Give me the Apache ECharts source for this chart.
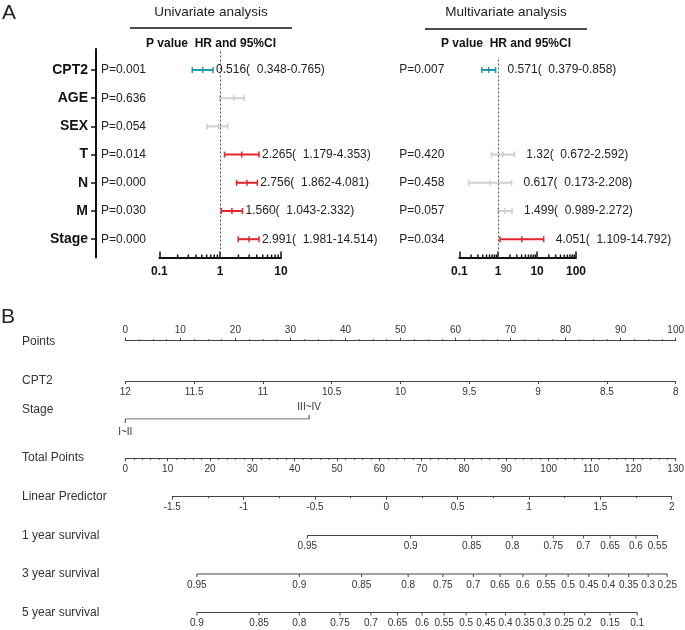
<!DOCTYPE html>
<html><head><meta charset="utf-8">
<script src="https://cdn.jsdelivr.net/npm/echarts@6/dist/echarts.min.js"></script>
<style>html,body{margin:0;padding:0;background:#fff}#c{width:685px;height:630px}</style>
</head><body><div id="c"></div>
<script>
// ---------- Panel A data ----------
const variables = ['CPT2', 'AGE', 'SEX', 'T', 'N', 'M', 'Stage'];
const uniP = ['P=0.001', 'P=0.636', 'P=0.054', 'P=0.014', 'P=0.000', 'P=0.030', 'P=0.000'];
const uniHR = [0.516, 1.67, 0.95, 2.265, 2.756, 1.560, 2.991];
const uniLo = [0.348, 0.975, 0.61, 1.179, 1.862, 1.043, 1.981];
const uniHi = [0.765, 2.5, 1.33, 4.353, 4.081, 2.332, 4.35];
const uniText = ['0.516(  0.348-0.765)', '', '', '2.265(  1.179-4.353)', '2.756(  1.862-4.081)', '1.560(  1.043-2.332)', '2.991(  1.981-14.514)'];
const uniSig = ['low', 'ns', 'ns', 'high', 'high', 'high', 'high'];

const multiP = ['P=0.007', '', '', 'P=0.420', 'P=0.458', 'P=0.057', 'P=0.034'];
const multiHR = [0.571, null, null, 1.32, 0.617, 1.499, 4.051];
const multiLo = [0.379, null, null, 0.672, 0.173, 0.989, 1.109];
const multiHi = [0.858, null, null, 2.592, 2.208, 2.272, 14.792];
const multiText = ['0.571(  0.379-0.858)', '', '', '1.32(  0.672-2.592)', '0.617(  0.173-2.208)', '1.499(  0.989-2.272)', '4.051(  1.109-14.792)'];
const multiSig = ['low', null, null, 'ns', 'ns', 'ns', 'high'];

const uniMinorTicks = [0.2, 0.3, 0.4, 0.5, 0.6, 0.7, 0.8, 0.9, 2, 3, 4, 5, 6, 7, 8, 9];
const multiMinorTicks = [0.2, 0.3, 0.4, 0.5, 0.6, 0.7, 0.8, 0.9, 2, 3, 4, 5, 6, 7, 8, 9, 20, 30, 40, 50, 60, 70, 80, 90];

// ---------- Panel B (nomogram) data ----------
const rowNames = ['Points', 'CPT2', 'Stage', 'Total Points', 'Linear Predictor', '1 year survival', '3 year survival', '5 year survival'];
const stageLevels = ['I~II', 'III~IV'];
const stagePoints = [0, 33.4];
const surv1Labels = ['0.95', '0.9', '0.85', '0.8', '0.75', '0.7', '0.65', '0.6', '0.55'];
const surv1Pos = [43.0, 67.4, 81.8, 91.4, 101.1, 108.2, 114.5, 120.6, 125.7];
const surv3Labels = ['0.95', '0.9', '0.85', '0.8', '0.75', '0.7', '0.65', '0.6', '0.55', '0.5', '0.45', '0.4', '0.35', '0.3', '0.25'];
const surv3Pos = [16.9, 41.1, 55.8, 66.8, 75.0, 82.2, 88.5, 93.9, 99.4, 104.6, 109.5, 114.1, 118.9, 123.5, 128.0];
const surv5Labels = ['0.9', '0.85', '0.8', '0.75', '0.7', '0.65', '0.6', '0.55', '0.5', '0.45', '0.4', '0.35', '0.3', '0.25', '0.2', '0.15', '0.1'];
const surv5Pos = [16.9, 31.6, 41.1, 50.7, 58.0, 64.3, 70.1, 75.3, 80.5, 85.2, 89.8, 94.4, 98.9, 103.7, 108.5, 114.5, 120.9];

// ---------- styling ----------
const FONT = "'Liberation Sans', Arial, 'Noto Sans CJK SC', sans-serif";
const SIG_COLORS = { low: '#1f9bb0', ns: '#cfcfcf', high: '#e3262d' };
const NOMO_LINE = '#444';
const NOMO_TEXT = '#333';

function forestItem(textArr, sigArr, gap) {
  return function (params, api) {
    const lo = api.value(0), hi = api.value(1), hr = api.value(2), row = api.value(3);
    const a = api.coord([lo, row]), b = api.coord([hi, row]), c = api.coord([hr, row]);
    const col = SIG_COLORS[sigArr[row]];
    const h = 3;
    const children = [
      { type: 'line', shape: { x1: a[0], y1: a[1], x2: b[0], y2: b[1] }, style: { stroke: col, lineWidth: 2 } },
      { type: 'line', shape: { x1: a[0], y1: a[1] - h, x2: a[0], y2: a[1] + h }, style: { stroke: col, lineWidth: 1.5 } },
      { type: 'line', shape: { x1: b[0], y1: b[1] - h, x2: b[0], y2: b[1] + h }, style: { stroke: col, lineWidth: 1.5 } },
      { type: 'line', shape: { x1: c[0], y1: c[1] - h, x2: c[0], y2: c[1] + h }, style: { stroke: col, lineWidth: 1.5 } }
    ];
    if (textArr[row]) {
      children.push({ type: 'text', style: { x: b[0] + gap, y: b[1], text: textArr[row], fill: '#222', fontSize: 12, fontFamily: FONT, textAlign: 'left', textVerticalAlign: 'middle' } });
    }
    return { type: 'group', children };
  };
}
function minorTickItem(params, api) {
  const p = api.coord([api.value(0), 0]);
  return { type: 'line', shape: { x1: p[0], y1: p[1], x2: p[0], y2: p[1] - 3 }, style: { stroke: '#111', lineWidth: 1.5 } };
}
function survItem(labels) {
  return function (params, api) {
    const p = api.coord([api.value(0), 0]);
    return { type: 'group', children: [
      { type: 'line', shape: { x1: p[0], y1: p[1], x2: p[0], y2: p[1] + 3 }, style: { stroke: NOMO_LINE, lineWidth: 1 } },
      { type: 'text', style: { x: p[0], y: p[1] + 6, text: labels[params.dataIndex], fill: NOMO_TEXT, fontSize: 10, fontFamily: FONT, textAlign: 'center', textVerticalAlign: 'top' } }
    ] };
  };
}
function stageItem(params, api) {
  const p = api.coord([api.value(0), 0]);
  const up = params.dataIndex % 2 === 1;
  return { type: 'group', children: [
    { type: 'line', shape: { x1: p[0], y1: p[1], x2: p[0], y2: p[1] + (up ? -4 : 4) }, style: { stroke: NOMO_LINE, lineWidth: 1 } },
    { type: 'text', style: { x: p[0], y: p[1] + (up ? -7 : 8), text: stageLevels[params.dataIndex], fill: NOMO_TEXT, fontSize: 10, fontFamily: FONT, textAlign: 'center', textVerticalAlign: up ? 'bottom' : 'top' } }
  ] };
}

function forestData(lo, hi, hr) {
  const d = [];
  for (let i = 0; i < hr.length; i++) if (hr[i] != null) d.push([lo[i], hi[i], hr[i], i]);
  return d;
}

function g(left, right, top, height) { return { left, right, top, height, outerBoundsMode: 'none', containLabel: false }; }

const logAxisVisible = (gridIndex, max) => ({
  type: 'log', logBase: 10, gridIndex, min: 0.1, max, position: 'bottom',
  axisLine: { show: true, lineStyle: { color: '#111', width: 2 } },
  axisTick: { show: true, inside: true, length: 6, lineStyle: { color: '#111', width: 1.5 } },
  minorTick: { show: false }, splitLine: { show: false }, minorSplitLine: { show: false },
  axisLabel: { fontSize: 12, fontWeight: 'bold', color: '#111', fontFamily: FONT, margin: 8 }
});
const logAxisHidden = (gridIndex, max) => ({ type: 'log', logBase: 10, gridIndex, min: 0.1, max, show: false });

function nomoX(gridIndex, cfg) {
  return Object.assign({
    type: 'value', gridIndex, position: 'bottom',
    axisLine: { show: true, lineStyle: { color: NOMO_LINE, width: 1 } },
    axisTick: { show: true, length: 3, lineStyle: { color: NOMO_LINE } },
    splitLine: { show: false }, minorSplitLine: { show: false },
    axisLabel: { fontSize: 10, color: NOMO_TEXT, fontFamily: FONT, margin: 6, showMinLabel: true, showMaxLabel: true }
  }, cfg);
}
function rowLabelAxis(gridIndex, name, offset) {
  return {
    type: 'category', gridIndex, position: 'left', offset, data: [name],
    axisLine: { show: false }, axisTick: { show: false }, splitLine: { show: false },
    axisLabel: { align: 'left', margin: 0, fontSize: 12, color: NOMO_TEXT, fontFamily: FONT }
  };
}

const NL = 125.3, NR = 685 - 675.7;

const option = {
  animation: false,
  backgroundColor: '#fff',
  grid: [
    g(159.3, 404, 49, 208.5),      // 0 uni axes
    g(159.3, 404, 55.9, 197.4),    // 1 uni rows
    g(459.3, 109, 57, 200.5),      // 2 multi axes
    g(459.3, 109, 55.9, 197.4),    // 3 multi rows
    g(NL, NR, 340.7, 1),           // 4 points
    g(NL, NR, 380, 1),             // 5 CPT2
    g(NL, NR, 401, 18),            // 6 stage
    g(NL, NR, 457.3, 1),           // 7 total points
    g(172.3, 685 - 671.7, 495.7, 1), // 8 linear predictor
    g(NL, NR, 535, 1),             // 9 1y
    g(NL, NR, 573.5, 1),           // 10 3y
    g(NL, NR, 612, 1)              // 11 5y
  ],
  xAxis: [
    logAxisVisible(0, 10),
    logAxisHidden(1, 10),
    logAxisVisible(2, 100),
    logAxisHidden(3, 100),
    nomoX(4, { position: 'top', min: 0, max: 100, interval: 10, axisLabel: { fontSize: 10, color: NOMO_TEXT, fontFamily: FONT, margin: 5 },
      minorTick: { show: true, splitNumber: 4, length: 1.5, lineStyle: { color: NOMO_LINE } } }),
    nomoX(5, { min: 8, max: 12, interval: 0.5, inverse: true }),
    { type: 'value', gridIndex: 6, min: 0, max: 100, show: false },
    nomoX(7, { min: 0, max: 130, interval: 10, minorTick: { show: true, splitNumber: 5, length: 1.5, lineStyle: { color: NOMO_LINE } } }),
    nomoX(8, { min: -1.5, max: 2, interval: 0.5, minorTick: { show: true, splitNumber: 2, length: 1.5, lineStyle: { color: NOMO_LINE } } }),
    { type: 'value', gridIndex: 9, min: 0, max: 130, show: false },
    { type: 'value', gridIndex: 10, min: 0, max: 130, show: false },
    { type: 'value', gridIndex: 11, min: 0, max: 130, show: false }
  ],
  yAxis: [
    { type: 'value', gridIndex: 0, min: 0, max: 1, position: 'left', offset: 63.3,
      axisLine: { show: true, lineStyle: { color: '#111', width: 2 } }, axisTick: { show: false }, axisLabel: { show: false }, splitLine: { show: false } },
    { type: 'category', gridIndex: 1, data: variables, inverse: true, position: 'left', offset: 63.3,
      axisLine: { show: false }, axisTick: { show: true, alignWithLabel: true, length: 5, lineStyle: { color: '#111', width: 1.5 } },
      axisLabel: { interval: 0, fontSize: 14, fontWeight: 'bold', color: '#111', fontFamily: FONT, margin: 8 } },
    { type: 'category', gridIndex: 1, data: uniP, inverse: true, position: 'left', offset: 58.3,
      axisLine: { show: false }, axisTick: { show: false },
      axisLabel: { interval: 0, align: 'left', margin: 0, fontSize: 12, color: '#222', fontFamily: FONT } },
    { type: 'value', gridIndex: 2, min: 0, max: 1, show: false },
    { type: 'category', gridIndex: 3, data: multiP, inverse: true, position: 'left', offset: 60,
      axisLine: { show: false }, axisTick: { show: false },
      axisLabel: { interval: 0, align: 'left', margin: 0, fontSize: 12, color: '#222', fontFamily: FONT } },
    rowLabelAxis(4, rowNames[0], NL - 22),
    rowLabelAxis(5, rowNames[1], NL - 22),
    rowLabelAxis(6, rowNames[2], NL - 22),
    { type: 'value', gridIndex: 6, min: 0, max: 1, show: false },
    rowLabelAxis(7, rowNames[3], NL - 22),
    rowLabelAxis(8, rowNames[4], 172.3 - 22),
    rowLabelAxis(9, rowNames[5], NL - 22),
    rowLabelAxis(10, rowNames[6], NL - 22),
    rowLabelAxis(11, rowNames[7], NL - 22)
  ],
  series: [
    { type: 'custom', xAxisIndex: 0, yAxisIndex: 0, renderItem: minorTickItem, encode: { x: 0, y: 1 },
      data: uniMinorTicks.map(v => [v, 0]), silent: true,
      markLine: { silent: true, symbol: ['none', 'none'], label: { show: false },
        lineStyle: { type: [2, 2], color: '#555', width: 1 }, data: [{ xAxis: 1 }] } },
    { type: 'custom', xAxisIndex: 1, yAxisIndex: 1, renderItem: forestItem(uniText, uniSig, 3),
      encode: { x: [0, 1, 2], y: 3 }, data: forestData(uniLo, uniHi, uniHR), silent: true },
    { type: 'custom', xAxisIndex: 2, yAxisIndex: 3, renderItem: minorTickItem, encode: { x: 0, y: 1 },
      data: multiMinorTicks.map(v => [v, 0]), silent: true,
      markLine: { silent: true, symbol: ['none', 'none'], label: { show: false },
        lineStyle: { type: [2, 2], color: '#555', width: 1 }, data: [{ xAxis: 1 }] } },
    { type: 'custom', xAxisIndex: 3, yAxisIndex: 4, renderItem: forestItem(multiText, multiSig, 12),
      encode: { x: [0, 1, 2], y: 3 }, data: forestData(multiLo, multiHi, multiHR), silent: true },
    // Stage row
    { type: 'line', xAxisIndex: 6, yAxisIndex: 8, data: stagePoints.map(v => [v, 0]), symbol: 'none',
      lineStyle: { color: NOMO_LINE, width: 1 }, silent: true },
    { type: 'custom', xAxisIndex: 6, yAxisIndex: 8, renderItem: stageItem, encode: { x: 0, y: 1 },
      data: stagePoints.map(v => [v, 0]), silent: true },
    // survival rows
    { type: 'line', xAxisIndex: 9, yAxisIndex: 11, data: surv1Pos.map(v => [v, 0]), symbol: 'none', lineStyle: { color: NOMO_LINE, width: 1 }, silent: true },
    { type: 'custom', xAxisIndex: 9, yAxisIndex: 11, renderItem: survItem(surv1Labels), encode: { x: 0, y: 1 }, data: surv1Pos.map(v => [v, 0]), silent: true },
    { type: 'line', xAxisIndex: 10, yAxisIndex: 12, data: surv3Pos.map(v => [v, 0]), symbol: 'none', lineStyle: { color: NOMO_LINE, width: 1 }, silent: true },
    { type: 'custom', xAxisIndex: 10, yAxisIndex: 12, renderItem: survItem(surv3Labels), encode: { x: 0, y: 1 }, data: surv3Pos.map(v => [v, 0]), silent: true },
    { type: 'line', xAxisIndex: 11, yAxisIndex: 13, data: surv5Pos.map(v => [v, 0]), symbol: 'none', lineStyle: { color: NOMO_LINE, width: 1 }, silent: true },
    { type: 'custom', xAxisIndex: 11, yAxisIndex: 13, renderItem: survItem(surv5Labels), encode: { x: 0, y: 1 }, data: surv5Pos.map(v => [v, 0]), silent: true }
  ],
  graphic: [
    { type: 'text', x: 9, y: 13, style: { text: 'A', font: '21px ' + FONT, fill: '#222', textAlign: 'center', textVerticalAlign: 'middle' } },
    { type: 'text', x: 8, y: 317, style: { text: 'B', font: '21px ' + FONT, fill: '#222', textAlign: 'center', textVerticalAlign: 'middle' } },
    { type: 'text', x: 211, y: 12, style: { text: 'Univariate analysis', font: '13.5px ' + FONT, fill: '#222', textAlign: 'center', textVerticalAlign: 'middle' } },
    { type: 'text', x: 506, y: 12, style: { text: 'Multivariate analysis', font: '13.5px ' + FONT, fill: '#222', textAlign: 'center', textVerticalAlign: 'middle' } },
    { type: 'line', shape: { x1: 130, y1: 28, x2: 292, y2: 28 }, style: { stroke: '#111', lineWidth: 1.5 } },
    { type: 'line', shape: { x1: 425, y1: 29, x2: 587, y2: 29 }, style: { stroke: '#111', lineWidth: 1.5 } },
    { type: 'text', x: 211, y: 44, style: { text: 'P value  HR and 95%CI', font: 'bold 12px ' + FONT, fill: '#111', textAlign: 'center', textVerticalAlign: 'middle' } },
    { type: 'text', x: 506, y: 44, style: { text: 'P value  HR and 95%CI', font: 'bold 12px ' + FONT, fill: '#111', textAlign: 'center', textVerticalAlign: 'middle' } }
  ]
};

const chart = echarts.init(document.getElementById('c'), null, { renderer: 'canvas' });
chart.setOption(option);
</script>
</body></html>
